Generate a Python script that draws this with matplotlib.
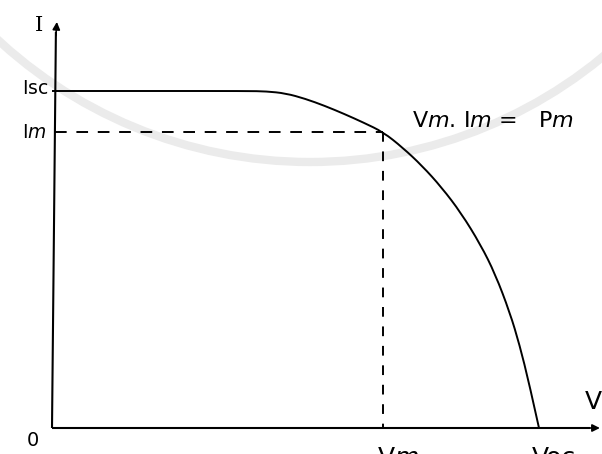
import matplotlib
matplotlib.use("Agg")
import matplotlib.pyplot as plt
from matplotlib.patches import Circle, PathPatch
from matplotlib.path import Path

plt.rcParams["mathtext.fontset"] = "dejavusans"

# I-V characteristic of a solar cell, normalised to Voc = 1 and Isc = 1
V_oc = 1.0
I_sc = 1.0
V_m = 0.680
I_m = 0.878

curve_V = [0.000, 0.200, 0.400, 0.440, 0.480, 0.520, 0.560, 0.600, 0.640,
           0.680, 0.720, 0.760, 0.800, 0.840, 0.880, 0.910, 0.940, 0.960,
           0.980, 1.000]
curve_I = [1.000, 1.000, 1.000, 0.999, 0.993, 0.977, 0.956, 0.932, 0.906,
           0.878, 0.832, 0.778, 0.714, 0.638, 0.544, 0.457, 0.343, 0.247,
           0.131, 0.000]

# extent of the drawn axes (arrow tips)
V_axis_end = 1.125
I_axis_end = 1.205


def smooth_path(xs, ys):
    """Quadratic B-spline through the midpoints, anchored at both ends."""
    pts = list(zip(xs, ys))
    verts = [pts[0]]
    codes = [Path.MOVETO]
    for i in range(1, len(pts) - 1):
        mid = ((pts[i][0] + pts[i + 1][0]) / 2, (pts[i][1] + pts[i + 1][1]) / 2)
        if i == len(pts) - 2:
            mid = pts[-1]
        verts += [pts[i], mid]
        codes += [Path.CURVE3, Path.CURVE3]
    return Path(verts, codes)


fig = plt.figure(figsize=(6.02, 4.54), dpi=100)
fig.patch.set_facecolor("white")

# faint seal ring in the background
bg = fig.add_axes([0, 0, 1, 1], zorder=0)
bg.set_xlim(0, 602)
bg.set_ylim(454, 0)
bg.axis("off")
bg.add_patch(Circle((310, -298), 460, fill=False, ec="#ebebeb", lw=6))

ax = fig.add_axes([0, 0, 1, 1], zorder=1)
ax.patch.set_alpha(0)
ax.set_xlim(-52 / 487, 550 / 487)
ax.set_ylim(-26 / 337, 428 / 337)
ax.axis("off")

ink = "black"

# axes with arrow heads
ax.plot([0, V_axis_end - 0.02], [0, 0], color=ink, lw=1.5, solid_capstyle="butt")
ax.plot([0, 0.008], [0, I_axis_end - 0.03], color=ink, lw=1.5, solid_capstyle="butt")
ax.annotate("", xy=(V_axis_end, 0), xytext=(V_axis_end - 0.03, 0),
            arrowprops=dict(arrowstyle="-|>", color=ink, lw=1.2,
                            mutation_scale=11, shrinkA=0, shrinkB=0))
ax.annotate("", xy=(0.01, I_axis_end), xytext=(0.008, I_axis_end - 0.04),
            arrowprops=dict(arrowstyle="-|>", color=ink, lw=1.2,
                            mutation_scale=11, shrinkA=0, shrinkB=0))

# the characteristic curve
ax.add_patch(PathPatch(smooth_path(curve_V, curve_I), fill=False,
                       ec=ink, lw=1.4, capstyle="butt"))

# maximum power point guides
ax.plot([0.006, V_m], [I_m, I_m], color=ink, lw=1.4, ls=(0, (6, 5)))
ax.plot([V_m, V_m], [I_m, 0], color=ink, lw=1.4, ls=(0, (5, 5)))

# labels
ax.text(-0.027, 1.195, "I", fontsize=15, family="DejaVu Serif",
        ha="center", va="center")
ax.text(-0.062, I_sc + 0.008, r"$\mathrm{I}$sc", fontsize=13.5,
        ha="left", va="center")
ax.text(-0.062, I_m, r"$\mathrm{I}$$\mathit{m}$", fontsize=13.5,
        ha="left", va="center")
ax.text(0.739, 0.893, r"V$\mathit{m}$. $\mathrm{I}$$\mathit{m}$ =   P$\mathit{m}$",
        fontsize=16, ha="left", va="baseline")
ax.text(1.111, 0.077, "V", fontsize=18, ha="center", va="center")
ax.text(-0.039, -0.036, "0", fontsize=14, ha="center", va="center")
ax.text(0.667, -0.053, r"V$\mathit{m}$", fontsize=18, ha="left", va="top")
ax.text(0.986, -0.053, "Voc", fontsize=18, ha="left", va="top")

fig.savefig("out.png", dpi=100, facecolor="white")
